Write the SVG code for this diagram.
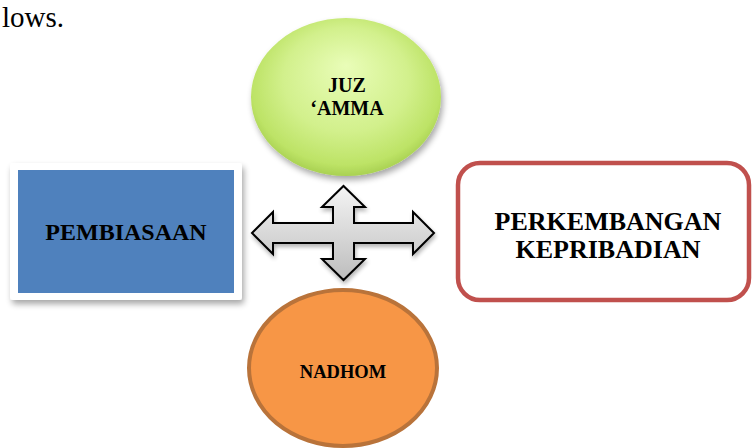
<svg xmlns="http://www.w3.org/2000/svg" width="753" height="448" viewBox="0 0 753 448">
  <defs>
    <style>
      .lbl { font-family: "Liberation Serif", "Times New Roman", serif; font-weight: bold; fill: #000; text-anchor: middle; }
      .body { font-family: "Liberation Serif", "Times New Roman", serif; fill: #000; }
    </style>
    <radialGradient id="gGreen" cx="0.5" cy="0.45" r="0.55" fx="0.5" fy="0.3">
      <stop offset="0" stop-color="#e9fdb8"/>
      <stop offset="0.6" stop-color="#d2f08c"/>
      <stop offset="0.9" stop-color="#bde366"/>
      <stop offset="1" stop-color="#a9d152"/>
    </radialGradient>
    <linearGradient id="gCross" x1="0" y1="0" x2="0" y2="1">
      <stop offset="0" stop-color="#f4f4f4"/>
      <stop offset="1" stop-color="#bdbdbd"/>
    </linearGradient>
    <filter id="shadow" x="-10%" y="-10%" width="125%" height="130%">
      <feGaussianBlur in="SourceAlpha" stdDeviation="3"/>
      <feOffset dx="2" dy="4" result="b"/>
      <feComponentTransfer><feFuncA type="linear" slope="0.35"/></feComponentTransfer>
      <feMerge><feMergeNode/><feMergeNode in="SourceGraphic"/></feMerge>
    </filter>
    <filter id="shadowS" x="-10%" y="-10%" width="125%" height="130%">
      <feGaussianBlur in="SourceAlpha" stdDeviation="2"/>
      <feOffset dx="1" dy="3" result="b"/>
      <feComponentTransfer><feFuncA type="linear" slope="0.3"/></feComponentTransfer>
      <feMerge><feMergeNode/><feMergeNode in="SourceGraphic"/></feMerge>
    </filter>
  </defs>
  <rect width="753" height="448" fill="#ffffff"/>
  <text class="body" x="2" y="27" font-size="29">lows.</text>

  <g id="juz-amma">
    <ellipse cx="346" cy="97" rx="95" ry="79" fill="url(#gGreen)" filter="url(#shadow)"/>
    <text class="lbl" x="347" y="92" font-size="20">JUZ</text>
    <text class="lbl" x="347" y="115" font-size="20">‘AMMA</text>
  </g>

  <g id="pembiasaan">
    <rect x="10" y="163" width="232" height="137" rx="3" fill="#ffffff" filter="url(#shadow)"/>
    <rect x="18" y="170" width="216" height="123" fill="#4f81bd"/>
    <text class="lbl" x="126" y="240" font-size="24">PEMBIASAAN</text>
  </g>

  <g id="perkembangan-kepribadian">
    <rect x="458" y="163" width="291" height="137" rx="22" fill="#ffffff" stroke="#c0504d" stroke-width="4.5"/>
    <text class="lbl" x="608" y="230" font-size="26">PERKEMBANGAN</text>
    <text class="lbl" x="608" y="258" font-size="26">KEPRIBADIAN</text>
  </g>

  <g id="nadhom">
    <ellipse cx="343" cy="368" rx="94" ry="78" fill="#f79646" stroke="#b9733a" stroke-width="4"/>
    <text class="lbl" x="343" y="378" font-size="18.5">NADHOM</text>
  </g>

  <g id="connectors">
    <path d="M252,233 L273,212 L273,223 L333,223 L333,207 L322,207 L343.5,186 L365,207 L354,207 L354,223 L413,223 L413,212 L434,233 L413,254 L413,243 L354,243 L354,259 L365,259 L343.5,280 L322,259 L333,259 L333,243 L273,243 L273,254 Z" fill="url(#gCross)" stroke="#000" stroke-width="2" stroke-linejoin="miter" filter="url(#shadowS)"/>
  </g>
</svg>
